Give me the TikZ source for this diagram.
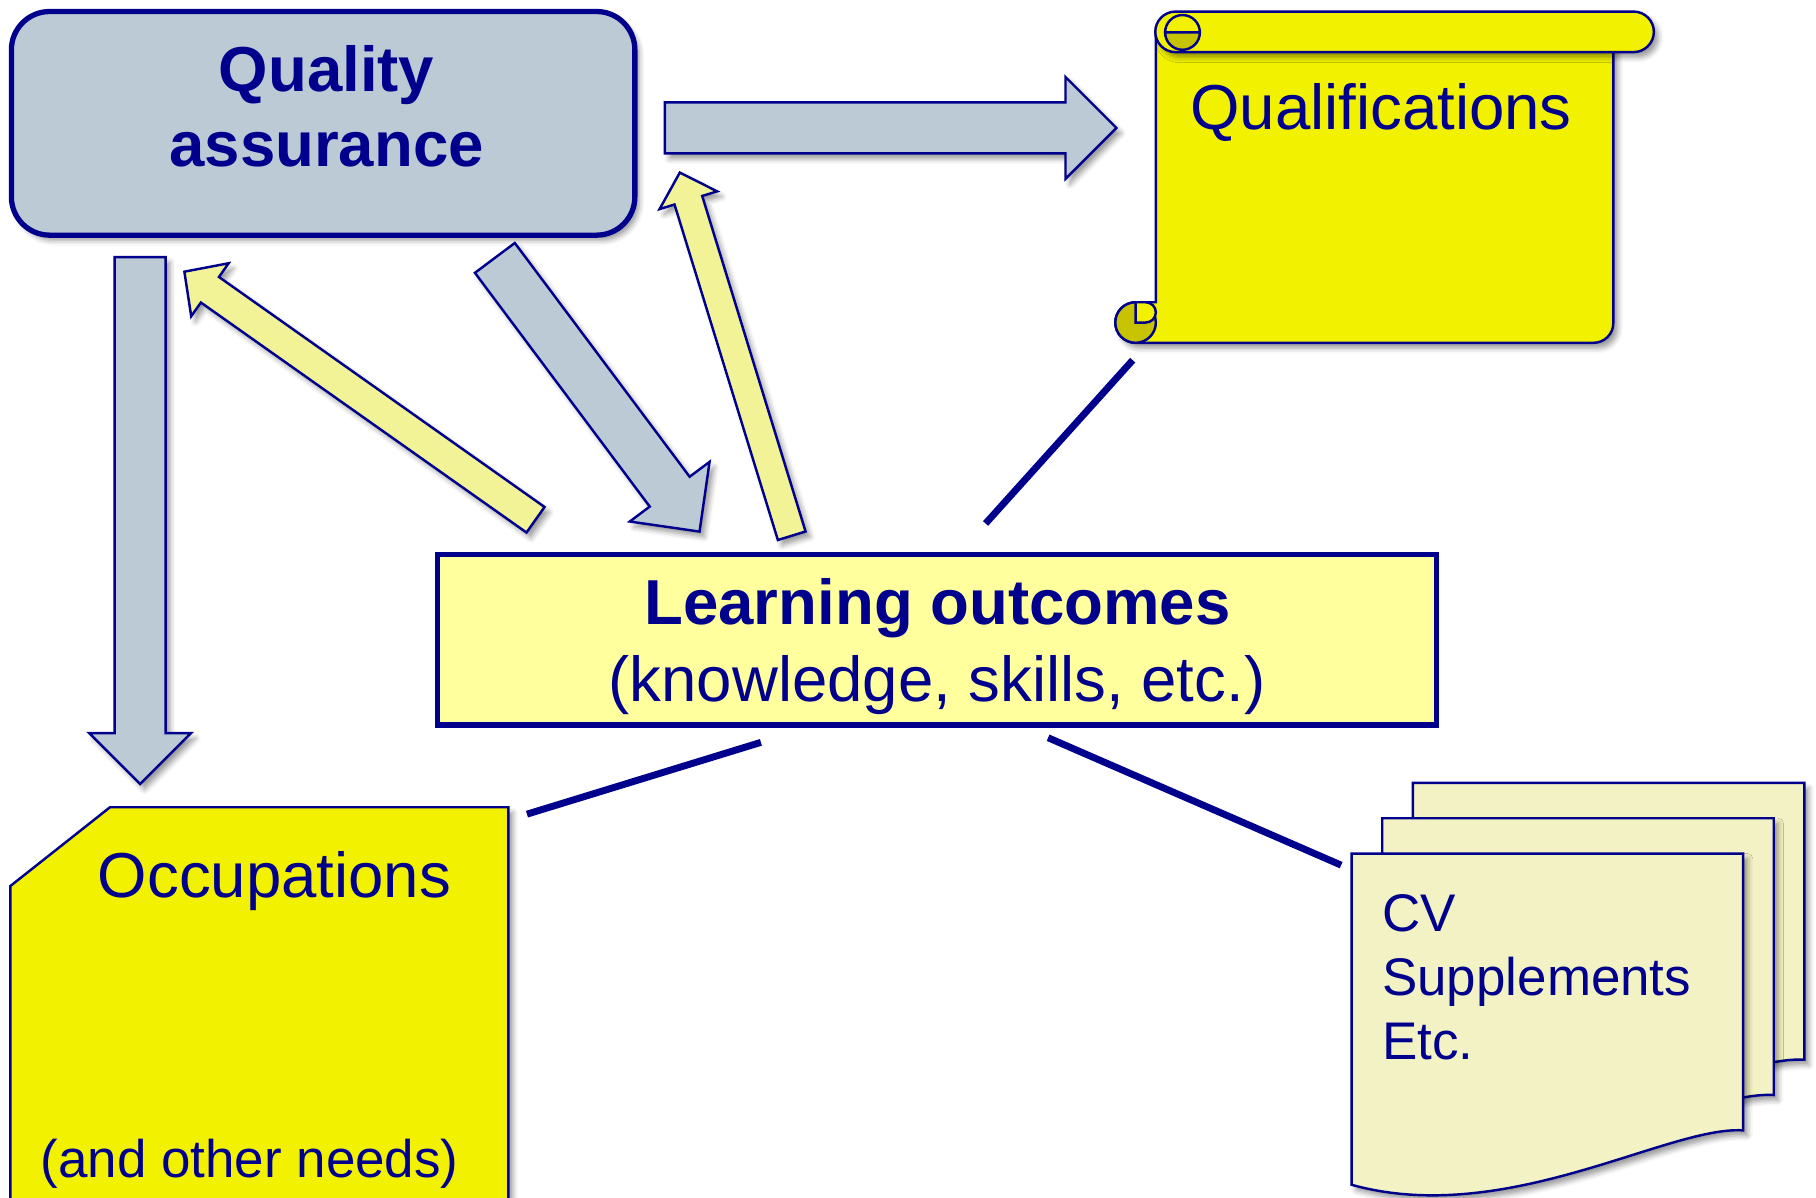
\documentclass[tikz,border=0pt]{standalone}
\usepackage{fontspec}
\setmainfont{Liberation Sans}
\usetikzlibrary{calc,shadows.blur}

\definecolor{navy}{RGB}{0,0,140}
\definecolor{qagray}{RGB}{188,202,214}
\definecolor{lofill}{RGB}{255,255,158}
\definecolor{arrowyellow}{RGB}{242,242,150}
\definecolor{brightyellow}{RGB}{242,242,0}
\definecolor{curlyellow}{RGB}{200,195,0}
\definecolor{pagecream}{RGB}{242,242,196}

\tikzset{
  softshadow/.style={blur shadow={shadow xshift=1.1pt,shadow yshift=-1.3pt,shadow blur radius=1.3pt,shadow opacity=40}},
  qabox/.style={draw=navy,line width=1.3pt,fill=qagray,rounded corners=0.33cm,
    minimum width=5.38cm,minimum height=1.93cm,softshadow},
  lobox/.style={draw=navy,line width=1.3pt,fill=lofill,minimum width=8.62cm,minimum height=1.47cm},
  grayarrow/.style={draw=navy,line width=0.6pt,fill=qagray,softshadow},
  yellowarrow/.style={draw=navy,line width=0.6pt,fill=arrowyellow,softshadow},
  scroll/.style={draw=navy,line width=0.6pt,fill=brightyellow,softshadow},
  curl/.style={draw=navy,line width=0.6pt,fill=curlyellow},
  page/.style={draw=navy,line width=0.6pt,fill=pagecream,softshadow},
  link/.style={draw=navy,line width=1.7pt},
  bigtext/.style={text=navy,font=\fontsize{15.6}{18.5}\selectfont},
  bigbold/.style={text=navy,font=\fontsize{15.6}{18.5}\selectfont\bfseries},
  smalltext/.style={text=navy,font=\fontsize{13}{15.8}\selectfont}
}

% block arrow: style, tail, tip, half shaft, half head, head length
\newcommand{\blockarrow}[6]{%
  \coordinate (hb) at ($(#3)!#6!(#2)$);
  \draw[#1] ($(#2)!#4!90:(#3)$) -- ($(hb)!#4!90:(#3)$) -- ($(hb)!#5!90:(#3)$) -- (#3)
    -- ($(hb)!#5!-90:(#3)$) -- ($(hb)!#4!-90:(#3)$) -- ($(#2)!#4!-90:(#3)$) -- cycle;
}

\begin{document}
\begin{tikzpicture}[x=0.01cm,y=0.01cm]
  \path[use as bounding box,clip] (0,0) rectangle (1568,-1034);

  % quality assurance
  \node[qabox] (qa) at (279,-106.5) {};
  \node[bigbold,align=center,anchor=base] (qatext) at (282,-144) {Quality\\assurance};

  % qualifications scroll
  \draw[scroll] (998,-27.5) -- (1393,-27.5) -- (1393,-279) arc[start angle=0,end angle=-90,radius=17]
    -- (980.5,-296) arc[start angle=270,end angle=90,radius=17.5] -- (998,-261) -- cycle;
  \draw[scroll] (1015,-10) -- (1410.5,-10) arc[start angle=90,end angle=-90,radius=17.5]
    -- (1015,-45) arc[start angle=270,end angle=90,radius=17.5] -- cycle;
  \draw[curl] (1006,-28) arc[start angle=180,end angle=360,radius=15] -- cycle;
  \draw[navy,line width=0.6pt] (1006,-28) arc[start angle=180,end angle=0,radius=15];
  \draw[curl] (980.5,-278.5) circle[radius=17.5];
  \draw[draw=navy,line width=0.6pt,fill=brightyellow] (980.5,-278.5) -- (989.25,-278.5)
    arc[start angle=-90,end angle=90,radius=8.75] -- (980.5,-261) -- cycle;
  \node[bigtext,anchor=base] (qual) at (1192.5,-112) {Qualifications};

  % occupations
  \draw[scroll] (95,-697) -- (439,-697) -- (439,-1050) -- (9,-1050) -- (9,-765) -- cycle;
  \node[bigtext,anchor=base] (occ) at (237,-775) {Occupations};
  \node[smalltext,anchor=base] (needs) at (215.5,-1017) {(and other needs)};

  % learning outcomes
  \node[lobox] (lo) at (809,-552.5) {};
  \node[bigbold,anchor=base] (lotitle) at (809.5,-539.6) {Learning outcomes};
  \node[bigtext,anchor=base] (losub) at (809,-605.8) {(knowledge, skills, etc.)};

  % cv pages
  \foreach \dx/\dy in {53/61,26.5/30.5,0/0}
    \draw[page,shift={(\dx,\dy)}] (1167,-737) -- (1505,-737) -- (1505,-976)
      .. controls (1440,-972) and (1300,-1060) .. (1167,-1023) -- cycle;
  \node[smalltext,align=left,anchor=base west] (cv) at (1181,-915.2) {CV\\Supplements\\Etc.};

  % arrow ends
  \coordinate (qa-east) at (574,-110.5);
  \coordinate (qual-west) at (964,-110.5);
  \coordinate (qa-south) at (121,-222);
  \coordinate (occ-north) at (121,-677);
  \coordinate (qa-se) at (427.3,-222.7);
  \coordinate (lo-nw) at (604,-459);
  \coordinate (lo-n1) at (462.4,-448.8);
  \coordinate (qa-sw) at (159.2,-234.6);
  \coordinate (lo-n2) at (683.6,-462.6);
  \coordinate (qa-ne) at (587,-149);

  \blockarrow{grayarrow}{qa-east}{qual-west}{0.22cm}{0.44cm}{0.44cm}
  \blockarrow{grayarrow}{qa-south}{occ-north}{0.22cm}{0.44cm}{0.44cm}
  \blockarrow{grayarrow}{qa-se}{lo-nw}{0.215cm}{0.43cm}{0.43cm}
  \blockarrow{yellowarrow}{lo-n1}{qa-sw}{0.135cm}{0.28cm}{0.27cm}
  \blockarrow{yellowarrow}{lo-n2}{qa-ne}{0.125cm}{0.26cm}{0.25cm}

  % links
  \coordinate (lo-up) at (851,-452);
  \coordinate (qual-down) at (978,-311);
  \coordinate (lo-left) at (657,-641);
  \coordinate (occ-right) at (455,-703);
  \coordinate (lo-right) at (905,-637);
  \coordinate (cv-left) at (1158,-747);
  \draw[link] (lo-up) -- (qual-down);
  \draw[link] (lo-left) -- (occ-right);
  \draw[link] (lo-right) -- (cv-left);
\end{tikzpicture}
\end{document}
